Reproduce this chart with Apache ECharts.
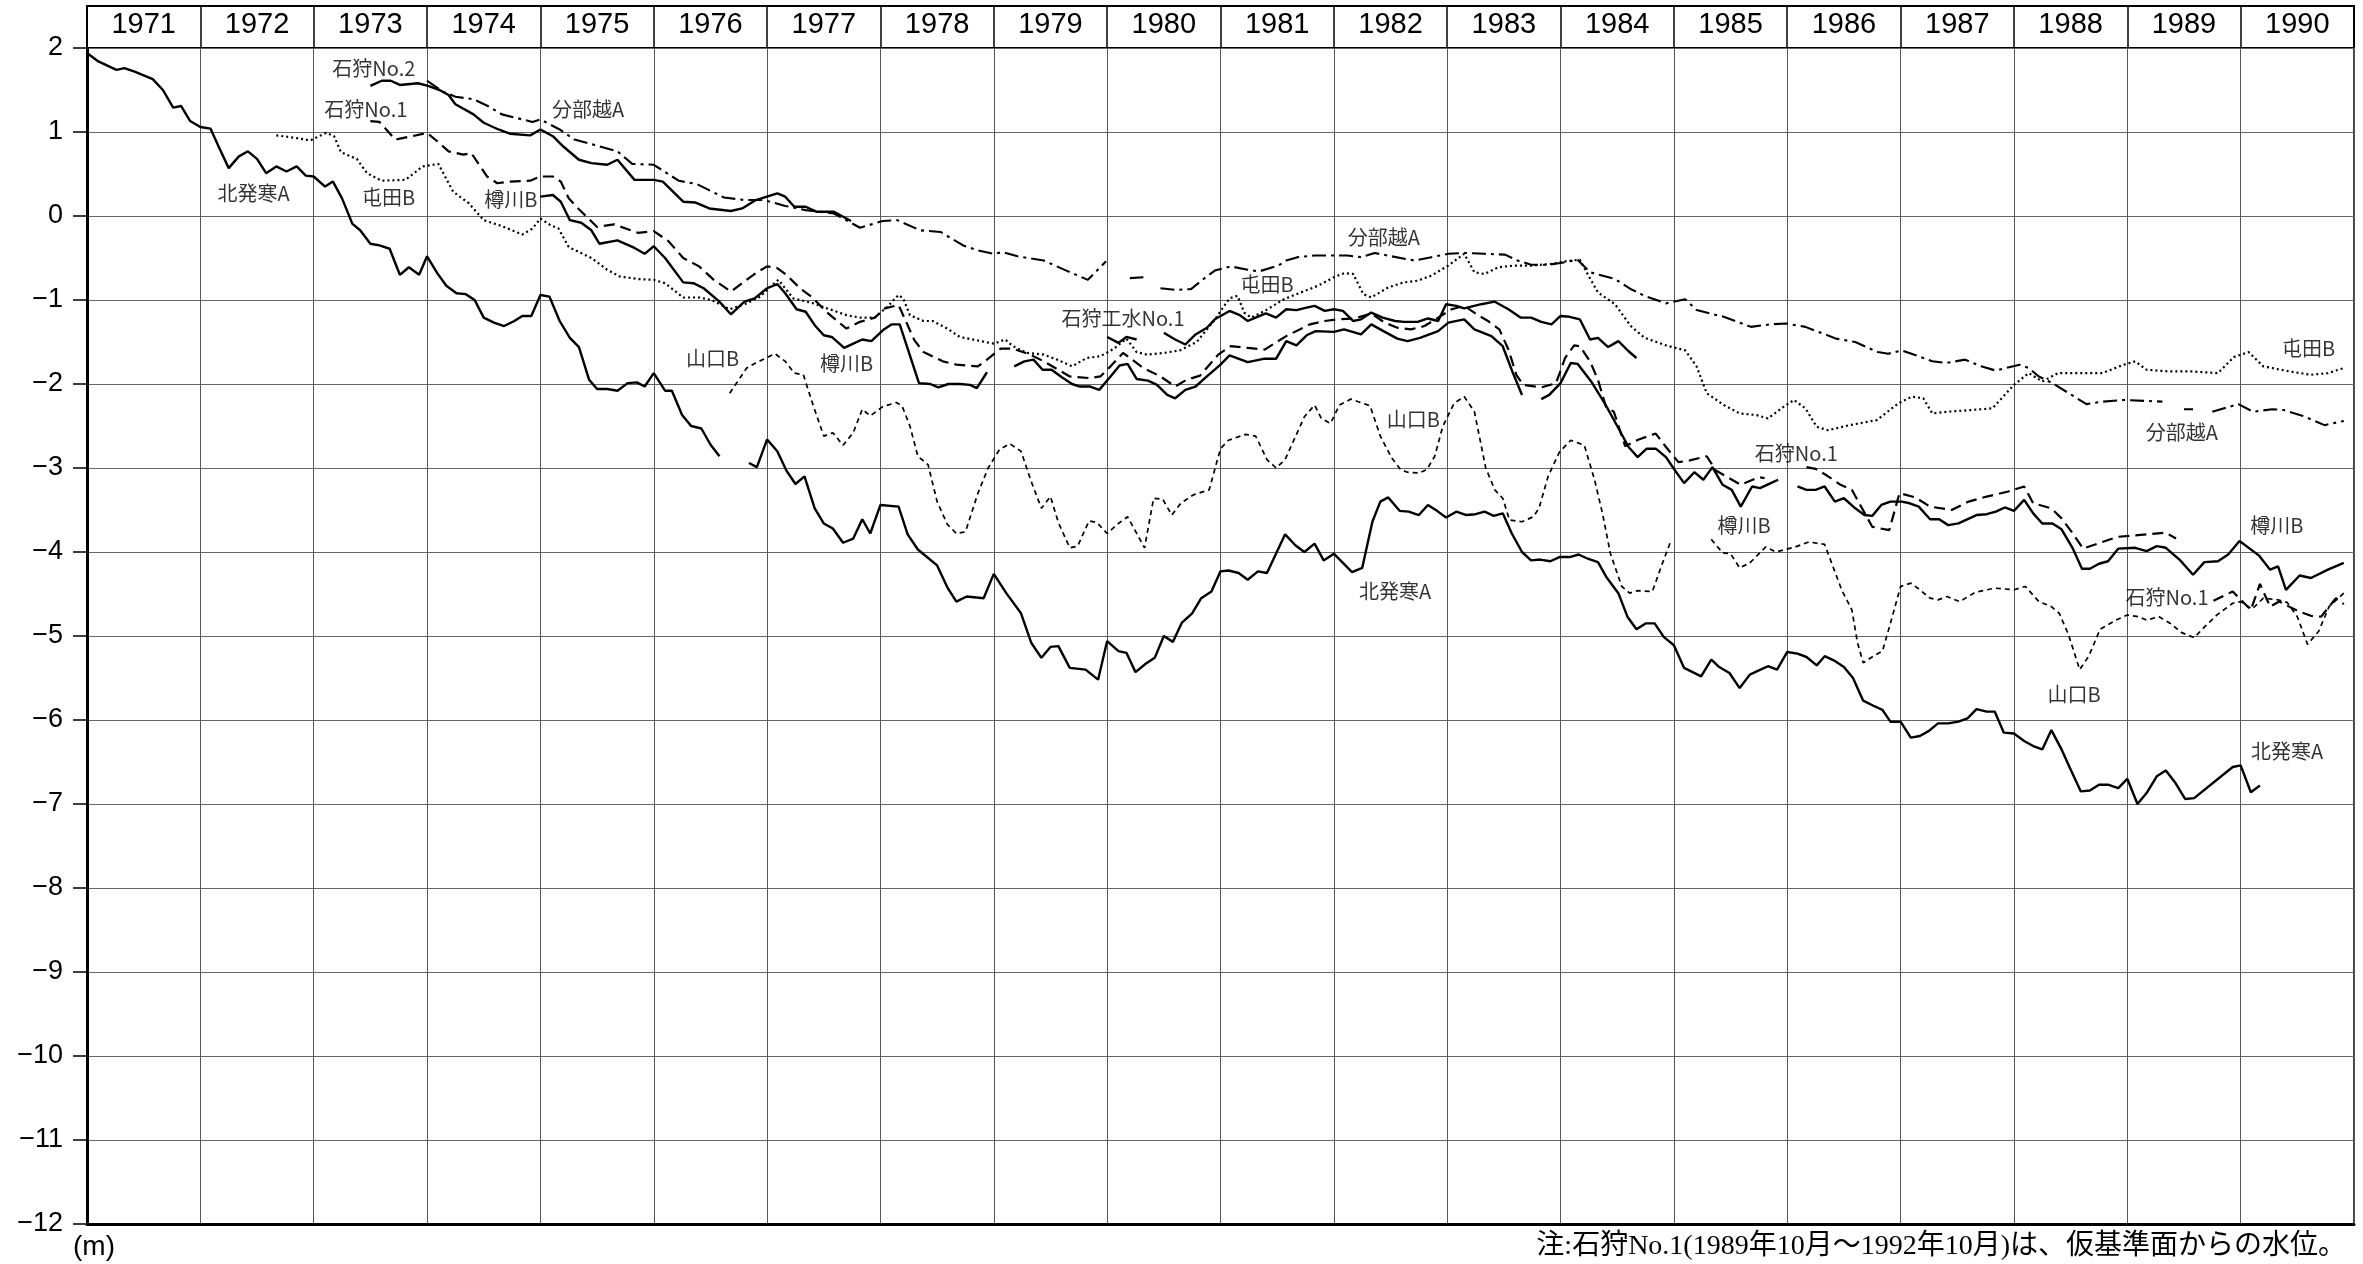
<!DOCTYPE html>
<html><head><meta charset="utf-8">
<script src="https://cdn.jsdelivr.net/npm/echarts/dist/echarts.min.js"></script>
<style>html,body{margin:0;padding:0;background:#fff}#c{width:2363px;height:1264px}</style>
</head><body><div id="c"></div><script>
// ---------- data ----------
const yearLabels = ['1971','1972','1973','1974','1975','1976','1977','1978','1979','1980','1981','1982','1983','1984','1985','1986','1987','1988','1989','1990'];
const yTickValues = [2,1,0,-1,-2,-3,-4,-5,-6,-7,-8,-9,-10,-11,-12];

const kitahassamuA = [[1971.0,1.94],[1971.1,1.84],[1971.26,1.74],[1971.33,1.76],[1971.42,1.72],[1971.58,1.63],[1971.67,1.50],[1971.76,1.29],[1971.83,1.31],[1971.91,1.13],[1972.0,1.06],[1972.09,1.04],[1972.16,0.83],[1972.25,0.57],[1972.34,0.71],[1972.42,0.77],[1972.5,0.68],[1972.58,0.51],[1972.67,0.59],[1972.76,0.53],[1972.85,0.59],[1972.93,0.48],[1973.0,0.47],[1973.1,0.35],[1973.17,0.41],[1973.25,0.21],[1973.34,-0.09],[1973.41,-0.17],[1973.5,-0.33],[1973.58,-0.35],[1973.67,-0.39],[1973.76,-0.70],[1973.84,-0.61],[1973.93,-0.70],[1974.0,-0.48],[1974.09,-0.68],[1974.17,-0.83],[1974.26,-0.92],[1974.34,-0.93],[1974.42,-1.0],[1974.5,-1.21],[1974.59,-1.27],[1974.68,-1.31],[1974.77,-1.25],[1974.84,-1.19],[1974.92,-1.19],[1975.0,-0.94],[1975.08,-0.96],[1975.17,-1.25],[1975.26,-1.45],[1975.34,-1.56],[1975.43,-1.95],[1975.5,-2.06],[1975.59,-2.06],[1975.68,-2.08],[1975.77,-1.99],[1975.85,-1.98],[1975.92,-2.03],[1976.0,-1.87],[1976.1,-2.08],[1976.16,-2.08],[1976.25,-2.37],[1976.33,-2.50],[1976.42,-2.53],[1976.5,-2.72],[1976.58,-2.86],null,[1976.84,-2.94],[1976.91,-2.99],[1977.0,-2.66],[1977.09,-2.80],[1977.17,-3.03],[1977.25,-3.19],[1977.33,-3.10],[1977.42,-3.48],[1977.5,-3.66],[1977.58,-3.72],[1977.67,-3.89],[1977.76,-3.84],[1977.84,-3.61],[1977.91,-3.78],[1978.0,-3.44],[1978.16,-3.46],[1978.24,-3.79],[1978.33,-3.97],[1978.41,-4.06],[1978.5,-4.16],[1978.59,-4.42],[1978.67,-4.59],[1978.76,-4.53],[1978.91,-4.55],[1979.0,-4.26],[1979.11,-4.49],[1979.24,-4.73],[1979.33,-5.08],[1979.42,-5.26],[1979.5,-5.13],[1979.57,-5.12],[1979.67,-5.38],[1979.81,-5.40],[1979.92,-5.52],[1980.0,-5.06],[1980.1,-5.18],[1980.17,-5.20],[1980.25,-5.43],[1980.34,-5.33],[1980.42,-5.26],[1980.5,-5.0],[1980.58,-5.07],[1980.66,-4.84],[1980.75,-4.73],[1980.83,-4.55],[1980.92,-4.47],[1981.0,-4.23],[1981.07,-4.22],[1981.16,-4.25],[1981.24,-4.33],[1981.33,-4.23],[1981.41,-4.25],[1981.57,-3.79],[1981.66,-3.92],[1981.74,-4.0],[1981.83,-3.90],[1981.91,-4.10],[1982.0,-4.02],[1982.08,-4.13],[1982.16,-4.24],[1982.25,-4.19],[1982.34,-3.64],[1982.41,-3.40],[1982.48,-3.35],[1982.58,-3.51],[1982.66,-3.52],[1982.75,-3.56],[1982.83,-3.44],[1982.91,-3.51],[1982.99,-3.59],[1983.08,-3.52],[1983.17,-3.56],[1983.25,-3.55],[1983.33,-3.52],[1983.41,-3.57],[1983.49,-3.54],[1983.57,-3.78],[1983.66,-4.0],[1983.74,-4.10],[1983.82,-4.09],[1983.91,-4.11],[1983.99,-4.06],[1984.08,-4.06],[1984.16,-4.03],[1984.24,-4.08],[1984.33,-4.12],[1984.41,-4.31],[1984.51,-4.49],[1984.59,-4.77],[1984.67,-4.92],[1984.75,-4.85],[1984.83,-4.85],[1984.91,-5.01],[1985.0,-5.11],[1985.09,-5.38],[1985.24,-5.48],[1985.33,-5.28],[1985.4,-5.37],[1985.49,-5.44],[1985.58,-5.62],[1985.67,-5.46],[1985.75,-5.41],[1985.83,-5.36],[1985.91,-5.40],[1986.0,-5.19],[1986.09,-5.21],[1986.17,-5.25],[1986.26,-5.35],[1986.33,-5.24],[1986.41,-5.29],[1986.5,-5.37],[1986.58,-5.50],[1986.67,-5.77],[1986.76,-5.83],[1986.84,-5.88],[1986.91,-6.02],[1987.0,-6.02],[1987.09,-6.21],[1987.17,-6.19],[1987.25,-6.13],[1987.33,-6.04],[1987.42,-6.04],[1987.51,-6.02],[1987.59,-5.98],[1987.67,-5.87],[1987.76,-5.90],[1987.83,-5.90],[1987.91,-6.15],[1988.0,-6.16],[1988.09,-6.25],[1988.17,-6.31],[1988.25,-6.35],[1988.33,-6.12],[1988.42,-6.35],[1988.5,-6.59],[1988.59,-6.85],[1988.67,-6.84],[1988.75,-6.77],[1988.83,-6.77],[1988.92,-6.81],[1989.0,-6.70],[1989.09,-7.0],[1989.17,-6.87],[1989.26,-6.67],[1989.34,-6.6],[1989.42,-6.74],[1989.51,-6.94],[1989.59,-6.93],[1989.93,-6.56],[1990.0,-6.54],[1990.09,-6.86],[1990.17,-6.78]];

const yamaguchiB = [[1976.67,-2.11],[1976.82,-1.81],[1976.9,-1.75],[1976.99,-1.69],[1977.07,-1.64],[1977.16,-1.73],[1977.24,-1.87],[1977.32,-1.89],[1977.41,-2.27],[1977.5,-2.62],[1977.58,-2.58],[1977.67,-2.73],[1977.76,-2.58],[1977.84,-2.30],[1977.91,-2.38],[1978.02,-2.27],[1978.14,-2.22],[1978.19,-2.26],[1978.26,-2.50],[1978.33,-2.86],[1978.42,-2.96],[1978.5,-3.40],[1978.59,-3.67],[1978.67,-3.78],[1978.75,-3.76],[1978.86,-3.30],[1978.95,-3.0],[1979.05,-2.78],[1979.14,-2.71],[1979.24,-2.80],[1979.33,-3.16],[1979.42,-3.48],[1979.5,-3.34],[1979.57,-3.65],[1979.67,-3.95],[1979.74,-3.93],[1979.84,-3.63],[1979.91,-3.65],[1980.0,-3.78],[1980.09,-3.67],[1980.18,-3.58],[1980.33,-3.95],[1980.41,-3.36],[1980.49,-3.37],[1980.57,-3.56],[1980.65,-3.42],[1980.76,-3.32],[1980.9,-3.26],[1981.0,-2.77],[1981.07,-2.67],[1981.22,-2.60],[1981.31,-2.62],[1981.41,-2.90],[1981.49,-3.0],[1981.57,-2.90],[1981.74,-2.39],[1981.83,-2.25],[1981.89,-2.41],[1981.97,-2.47],[1982.05,-2.25],[1982.15,-2.18],[1982.32,-2.26],[1982.41,-2.62],[1982.51,-2.88],[1982.59,-3.02],[1982.65,-3.05],[1982.75,-3.06],[1982.82,-3.02],[1982.89,-2.86],[1982.96,-2.51],[1983.06,-2.23],[1983.15,-2.15],[1983.24,-2.33],[1983.34,-3.0],[1983.42,-3.26],[1983.49,-3.36],[1983.55,-3.62],[1983.66,-3.64],[1983.76,-3.58],[1983.81,-3.48],[1983.89,-3.10],[1983.99,-2.81],[1984.09,-2.67],[1984.21,-2.73],[1984.3,-3.14],[1984.37,-3.54],[1984.44,-4.02],[1984.54,-4.41],[1984.61,-4.49],[1984.68,-4.46],[1984.81,-4.47],[1984.9,-4.13],[1984.97,-3.88],null,[1985.33,-3.85],[1985.43,-4.01],[1985.5,-4.02],[1985.58,-4.19],[1985.67,-4.13],[1985.81,-3.94],[1985.9,-4.0],[1986.07,-3.94],[1986.19,-3.88],[1986.33,-3.91],[1986.38,-4.09],[1986.48,-4.45],[1986.57,-4.69],[1986.62,-5.08],[1986.67,-5.32],[1986.76,-5.24],[1986.84,-5.18],[1986.91,-4.85],[1987.0,-4.41],[1987.09,-4.37],[1987.17,-4.45],[1987.26,-4.55],[1987.33,-4.57],[1987.41,-4.53],[1987.52,-4.59],[1987.66,-4.48],[1987.83,-4.43],[1988.0,-4.45],[1988.1,-4.41],[1988.22,-4.59],[1988.33,-4.65],[1988.4,-4.73],[1988.48,-4.98],[1988.58,-5.40],[1988.66,-5.24],[1988.76,-4.92],[1988.9,-4.81],[1989.0,-4.75],[1989.1,-4.77],[1989.17,-4.81],[1989.28,-4.77],[1989.38,-4.85],[1989.48,-4.96],[1989.59,-5.02],[1989.69,-4.88],[1989.79,-4.75],[1989.93,-4.61],[1990.0,-4.59],[1990.1,-4.68],[1990.2,-4.55],[1990.33,-4.57],[1990.41,-4.6],[1990.5,-4.77],[1990.59,-5.10],[1990.69,-4.94],[1990.78,-4.65],[1990.91,-4.49]];

const tondenB = [[1972.67,0.96],[1972.84,0.93],[1972.97,0.90],[1973.11,0.99],[1973.18,0.95],[1973.24,0.76],[1973.38,0.68],[1973.47,0.51],[1973.6,0.42],[1973.81,0.43],[1973.96,0.59],[1974.1,0.62],[1974.23,0.29],[1974.37,0.15],[1974.5,-0.05],[1974.66,-0.12],[1974.84,-0.22],[1974.93,-0.15],[1975.0,-0.03],[1975.09,-0.11],[1975.16,-0.15],[1975.25,-0.37],[1975.45,-0.5],[1975.59,-0.64],[1975.7,-0.72],[1975.86,-0.75],[1976.0,-0.76],[1976.1,-0.8],[1976.26,-0.97],[1976.4,-0.97],[1976.51,-1.0],[1976.67,-1.11],[1976.82,-1.04],[1976.94,-0.96],[1977.02,-0.85],[1977.1,-0.76],[1977.23,-0.98],[1977.41,-1.04],[1977.53,-1.10],[1977.7,-1.18],[1977.82,-1.21],[1977.95,-1.21],[1978.06,-1.08],[1978.16,-0.94],[1978.2,-0.98],[1978.26,-1.18],[1978.38,-1.25],[1978.46,-1.25],[1978.59,-1.34],[1978.7,-1.44],[1978.85,-1.48],[1979.0,-1.52],[1979.1,-1.47],[1979.17,-1.55],[1979.29,-1.63],[1979.44,-1.65],[1979.56,-1.71],[1979.69,-1.79],[1979.82,-1.69],[1979.94,-1.67],[1980.06,-1.58],[1980.17,-1.46],[1980.26,-1.62],[1980.35,-1.65],[1980.5,-1.63],[1980.64,-1.60],[1980.79,-1.50],[1980.94,-1.25],[1981.08,-0.98],[1981.15,-0.95],[1981.21,-1.15],[1981.27,-1.21],[1981.39,-1.13],[1981.56,-0.99],[1981.71,-0.91],[1981.86,-0.83],[1982.0,-0.73],[1982.09,-0.68],[1982.17,-0.69],[1982.26,-0.93],[1982.33,-0.97],[1982.48,-0.85],[1982.62,-0.79],[1982.74,-0.77],[1982.86,-0.71],[1983.01,-0.59],[1983.15,-0.45],[1983.24,-0.67],[1983.33,-0.69],[1983.45,-0.61],[1983.59,-0.59],[1983.74,-0.59],[1983.92,-0.57],[1984.04,-0.54],[1984.17,-0.52],[1984.23,-0.67],[1984.33,-0.91],[1984.48,-1.05],[1984.62,-1.31],[1984.74,-1.45],[1984.93,-1.54],[1985.1,-1.6],[1985.2,-1.79],[1985.29,-2.11],[1985.44,-2.25],[1985.58,-2.35],[1985.73,-2.37],[1985.83,-2.41],[1985.97,-2.27],[1986.06,-2.19],[1986.16,-2.29],[1986.26,-2.51],[1986.36,-2.55],[1986.55,-2.49],[1986.79,-2.43],[1986.98,-2.23],[1987.1,-2.15],[1987.2,-2.17],[1987.28,-2.35],[1987.42,-2.33],[1987.62,-2.31],[1987.81,-2.29],[1988.0,-2.01],[1988.13,-1.87],[1988.25,-1.97],[1988.39,-1.87],[1988.59,-1.87],[1988.78,-1.87],[1988.97,-1.77],[1989.07,-1.73],[1989.17,-1.83],[1989.36,-1.85],[1989.56,-1.85],[1989.8,-1.87],[1989.94,-1.68],[1990.07,-1.62],[1990.2,-1.79],[1990.43,-1.85],[1990.62,-1.89],[1990.77,-1.87],[1990.91,-1.81]];

const wakeoiA = [[1974.0,1.61],[1974.14,1.48],[1974.25,1.42],[1974.41,1.39],[1974.55,1.30],[1974.66,1.21],[1974.93,1.12],[1975.0,1.15],[1975.17,1.03],[1975.3,0.91],[1975.52,0.83],[1975.68,0.77],[1975.81,0.62],[1976.0,0.61],[1976.22,0.42],[1976.38,0.38],[1976.62,0.22],[1976.8,0.19],[1976.97,0.19],[1977.16,0.12],[1977.34,0.07],[1977.59,0.03],[1977.82,-0.14],[1978.02,-0.06],[1978.15,-0.05],[1978.35,-0.17],[1978.53,-0.19],[1978.73,-0.35],[1978.86,-0.41],[1979.0,-0.45],[1979.08,-0.43],[1979.21,-0.48],[1979.44,-0.53],[1979.64,-0.65],[1979.83,-0.76],[1979.99,-0.54],null,[1980.2,-0.74],[1980.32,-0.73],null,[1980.47,-0.86],[1980.6,-0.88],[1980.74,-0.87],[1980.86,-0.74],[1980.95,-0.65],[1981.09,-0.60],[1981.24,-0.64],[1981.34,-0.66],[1981.51,-0.59],[1981.58,-0.53],[1981.68,-0.49],[1981.83,-0.47],[1982.0,-0.47],[1982.12,-0.47],[1982.24,-0.49],[1982.36,-0.44],[1982.51,-0.48],[1982.71,-0.53],[1982.86,-0.49],[1983.01,-0.45],[1983.15,-0.44],[1983.33,-0.45],[1983.51,-0.46],[1983.62,-0.53],[1983.74,-0.58],[1983.89,-0.58],[1984.0,-0.56],[1984.15,-0.52],[1984.26,-0.67],[1984.48,-0.75],[1984.62,-0.87],[1984.74,-0.95],[1984.93,-1.04],[1985.1,-0.99],[1985.2,-1.12],[1985.44,-1.2],[1985.68,-1.32],[1985.85,-1.29],[1985.99,-1.28],[1986.16,-1.32],[1986.43,-1.46],[1986.6,-1.5],[1986.8,-1.62],[1986.89,-1.64],[1987.01,-1.6],[1987.18,-1.68],[1987.28,-1.73],[1987.4,-1.75],[1987.57,-1.71],[1987.71,-1.79],[1987.84,-1.84],[1988.05,-1.77],[1988.13,-1.81],[1988.22,-1.91],[1988.34,-1.99],[1988.64,-2.24],[1988.78,-2.21],[1988.97,-2.19],[1989.31,-2.21],null,[1989.5,-2.3],[1989.58,-2.3],null,[1989.75,-2.33],[1989.98,-2.24],[1990.11,-2.33],[1990.28,-2.30],[1990.38,-2.31],[1990.55,-2.38],[1990.74,-2.49],[1990.91,-2.44]];

const ishikariNo2 = [[1973.5,1.55],[1973.6,1.61],[1973.68,1.61],[1973.76,1.56],[1973.92,1.58],[1974.01,1.55],[1974.11,1.50],[1974.19,1.44],[1974.25,1.33],[1974.41,1.21],[1974.5,1.11],[1974.63,1.03],[1974.73,0.98],[1974.91,0.96],[1975.0,1.03],[1975.11,0.95],[1975.2,0.83],[1975.34,0.67],[1975.45,0.63],[1975.59,0.61],[1975.68,0.67],[1975.83,0.43],[1976.0,0.43],[1976.08,0.41],[1976.26,0.17],[1976.37,0.16],[1976.49,0.09],[1976.68,0.06],[1976.78,0.09],[1976.9,0.19],[1977.09,0.27],[1977.16,0.23],[1977.24,0.11],[1977.34,0.11],[1977.44,0.05],[1977.59,0.05],[1977.74,-0.06]];

const ishikariNo1 = [[1973.5,1.13],[1973.58,1.12],[1973.72,0.91],[1973.87,0.95],[1974.0,0.99],[1974.09,0.89],[1974.19,0.77],[1974.32,0.73],[1974.39,0.75],[1974.53,0.47],[1974.62,0.39],[1974.73,0.41],[1974.91,0.42],[1975.0,0.47],[1975.11,0.47],[1975.18,0.41],[1975.25,0.21],[1975.34,0.08],[1975.5,-0.13],[1975.65,-0.10],[1975.86,-0.20],[1976.0,-0.18],[1976.13,-0.30],[1976.26,-0.5],[1976.4,-0.6],[1976.53,-0.76],[1976.68,-0.90],[1976.76,-0.82],[1976.9,-0.68],[1977.0,-0.6],[1977.09,-0.62],[1977.17,-0.70],[1977.29,-0.86],[1977.39,-0.96],[1977.53,-1.15],[1977.7,-1.34],[1977.82,-1.26],[1977.95,-1.21],[1978.04,-1.10],[1978.16,-1.06],[1978.3,-1.48],[1978.38,-1.62],[1978.55,-1.73],[1978.67,-1.77],[1978.86,-1.79],[1978.94,-1.71],[1979.06,-1.58],[1979.17,-1.58],[1979.32,-1.65],[1979.44,-1.73],[1979.67,-1.91],[1979.85,-1.93],[1979.94,-1.91],[1980.03,-1.79],[1980.14,-1.63],[1980.22,-1.71],[1980.32,-1.81],[1980.47,-1.91],[1980.6,-2.03],[1980.7,-1.95],[1980.82,-1.90],[1980.98,-1.65],[1981.09,-1.55],[1981.24,-1.57],[1981.39,-1.59],[1981.58,-1.43],[1981.79,-1.29],[1981.92,-1.25],[1982.04,-1.23],[1982.18,-1.22],[1982.33,-1.16],[1982.45,-1.27],[1982.56,-1.33],[1982.68,-1.35],[1982.8,-1.31],[1982.92,-1.21],[1983.04,-1.11],[1983.15,-1.07],[1983.26,-1.17],[1983.36,-1.25],[1983.46,-1.35],[1983.54,-1.59],[1983.61,-1.89],[1983.67,-2.01],[1983.83,-2.04],[1983.96,-1.99],[1984.04,-1.69],[1984.12,-1.54],[1984.17,-1.55],[1984.26,-1.73],[1984.33,-1.95],[1984.4,-2.27],[1984.47,-2.33],[1984.57,-2.74],[1984.69,-2.66],[1984.84,-2.59],[1984.93,-2.75],[1985.04,-2.93],[1985.14,-2.91],[1985.29,-2.86],[1985.37,-3.03],[1985.59,-3.20],[1985.75,-3.11],[1985.8,-3.12],null,[1986.17,-2.99],[1986.25,-3.01],[1986.35,-3.09],[1986.47,-3.2],[1986.57,-3.26],[1986.75,-3.70],[1986.9,-3.74],[1986.99,-3.30],[1987.13,-3.35],[1987.26,-3.46],[1987.45,-3.50],[1987.6,-3.40],[1987.76,-3.34],[1987.95,-3.28],[1988.09,-3.22],[1988.17,-3.42],[1988.33,-3.48],[1988.42,-3.60],[1988.52,-3.78],[1988.61,-3.96],[1988.74,-3.90],[1988.91,-3.82],[1989.17,-3.79],[1989.34,-3.77],[1989.43,-3.84],null,[1989.76,-4.58],[1989.93,-4.47],[1990.09,-4.69],[1990.17,-4.38],[1990.26,-4.65],[1990.34,-4.59],[1990.5,-4.70],[1990.62,-4.76],[1990.71,-4.77],[1990.84,-4.55],[1990.91,-4.62]];

const tarukawaB = [[1975.0,0.23],[1975.11,0.25],[1975.18,0.17],[1975.26,-0.05],[1975.36,-0.08],[1975.45,-0.17],[1975.52,-0.33],[1975.68,-0.29],[1975.83,-0.38],[1975.92,-0.45],[1976.0,-0.36],[1976.1,-0.50],[1976.26,-0.79],[1976.35,-0.80],[1976.44,-0.86],[1976.58,-1.02],[1976.68,-1.17],[1976.8,-1.02],[1976.89,-0.98],[1977.0,-0.86],[1977.09,-0.81],[1977.16,-0.92],[1977.26,-1.11],[1977.34,-1.14],[1977.42,-1.30],[1977.5,-1.42],[1977.57,-1.44],[1977.68,-1.57],[1977.76,-1.52],[1977.84,-1.47],[1977.92,-1.49],[1978.03,-1.35],[1978.1,-1.29],[1978.17,-1.29],[1978.34,-1.99],[1978.44,-2.0],[1978.51,-2.04],[1978.6,-2.0],[1978.7,-2.0],[1978.79,-2.01],[1978.85,-2.05],[1978.94,-1.86],null,[1979.18,-1.79],[1979.27,-1.73],[1979.35,-1.71],[1979.43,-1.83],[1979.51,-1.83],[1979.6,-1.92],[1979.69,-2.0],[1979.76,-2.03],[1979.85,-2.03],[1979.93,-2.07],[1980.03,-1.91],[1980.11,-1.78],[1980.18,-1.76],[1980.26,-1.94],[1980.36,-1.96],[1980.44,-2.01],[1980.53,-2.13],[1980.6,-2.17],[1980.69,-2.07],[1980.78,-2.03],[1980.88,-1.91],[1981.0,-1.77],[1981.08,-1.66],[1981.24,-1.74],[1981.38,-1.70],[1981.49,-1.70],[1981.58,-1.49],[1981.67,-1.54],[1981.76,-1.42],[1981.84,-1.37],[1982.0,-1.38],[1982.09,-1.35],[1982.24,-1.41],[1982.33,-1.29],[1982.45,-1.38],[1982.56,-1.46],[1982.65,-1.49],[1982.76,-1.45],[1982.92,-1.37],[1983.01,-1.27],[1983.15,-1.23],[1983.24,-1.35],[1983.39,-1.43],[1983.49,-1.55],[1983.58,-1.87],[1983.66,-2.13],null,[1983.83,-2.18],[1983.9,-2.13],[1984.0,-1.99],[1984.09,-1.75],[1984.15,-1.76],[1984.27,-1.97],[1984.39,-2.23],[1984.5,-2.5],[1984.6,-2.75],[1984.68,-2.87],[1984.76,-2.77],[1984.84,-2.77],[1984.93,-2.87],[1985.01,-3.03],[1985.09,-3.18],[1985.18,-3.05],[1985.26,-3.14],[1985.34,-2.99],[1985.43,-3.2],[1985.51,-3.26],[1985.59,-3.46],[1985.69,-3.22],[1985.76,-3.24],[1985.84,-3.19],[1985.92,-3.14],null,[1986.09,-3.22],[1986.17,-3.26],[1986.25,-3.26],[1986.33,-3.22],[1986.42,-3.40],[1986.5,-3.36],[1986.6,-3.48],[1986.68,-3.56],[1986.75,-3.57],[1986.83,-3.44],[1986.91,-3.40],[1987.01,-3.40],[1987.08,-3.42],[1987.16,-3.46],[1987.26,-3.61],[1987.34,-3.61],[1987.42,-3.68],[1987.51,-3.66],[1987.67,-3.56],[1987.76,-3.55],[1987.84,-3.52],[1987.92,-3.47],[1988.0,-3.51],[1988.09,-3.38],[1988.17,-3.54],[1988.25,-3.66],[1988.34,-3.66],[1988.42,-3.73],[1988.52,-3.96],[1988.6,-4.2],[1988.67,-4.20],[1988.75,-4.14],[1988.83,-4.11],[1988.92,-3.96],[1989.07,-3.95],[1989.17,-3.99],[1989.26,-3.93],[1989.34,-3.95],[1989.46,-4.09],[1989.58,-4.27],[1989.68,-4.12],[1989.8,-4.11],[1989.89,-4.03],[1989.99,-3.87],[1990.16,-4.04],[1990.26,-4.21],[1990.33,-4.17],[1990.4,-4.45],[1990.52,-4.28],[1990.62,-4.31],[1990.77,-4.21],[1990.91,-4.13]];

const ishikariKousuiNo1 = [[1980.0,-1.44],[1980.1,-1.51],[1980.17,-1.44],[1980.26,-1.47],null,[1980.5,-1.39],[1980.6,-1.47],[1980.69,-1.53],[1980.78,-1.41],[1980.88,-1.33],[1980.95,-1.23],[1981.08,-1.13],[1981.17,-1.18],[1981.24,-1.25],[1981.31,-1.21],[1981.4,-1.16],[1981.49,-1.21],[1981.58,-1.11],[1981.67,-1.12],[1981.76,-1.09],[1981.83,-1.07],[1981.92,-1.13],[1982.0,-1.11],[1982.08,-1.13],[1982.17,-1.25],[1982.24,-1.23],[1982.33,-1.15],[1982.43,-1.21],[1982.54,-1.25],[1982.62,-1.26],[1982.74,-1.26],[1982.83,-1.22],[1982.92,-1.25],[1982.99,-1.05],[1983.08,-1.07],[1983.15,-1.10],[1983.3,-1.05],[1983.42,-1.02],[1983.54,-1.11],[1983.65,-1.21],[1983.74,-1.21],[1983.83,-1.26],[1983.92,-1.29],[1984.0,-1.19],[1984.08,-1.20],[1984.17,-1.23],[1984.26,-1.47],[1984.33,-1.45],[1984.42,-1.56],[1984.51,-1.49],[1984.6,-1.61],[1984.67,-1.69]];

// series name labels (anchor in data units: year, metres)
const nameLabels = [
  ['石狩No.2',1973.53,1.76],['石狩No.1',1973.46,1.27],['分部越A',1975.42,1.27],
  ['北発寒A',1972.47,0.27],['屯田B',1973.66,0.22],['樽川B',1974.74,0.20],
  ['山口B',1976.52,-1.70],['樽川B',1977.7,-1.76],['石狩工水No.1',1980.14,-1.22],
  ['分部越A',1982.44,-0.25],['屯田B',1981.41,-0.82],['山口B',1982.7,-2.42],
  ['北発寒A',1982.54,-4.47],['石狩No.1',1986.08,-2.83],['樽川B',1985.62,-3.68],
  ['屯田B',1990.6,-1.58],['分部越A',1989.48,-2.58],['樽川B',1990.32,-3.68],
  ['石狩No.1',1989.35,-4.54],['山口B',1988.53,-5.70],['北発寒A',1990.41,-6.37]
];

// ---------- chart ----------
const NARROW = "'Liberation Sans Narrow','Arial Narrow','Liberation Sans',sans-serif";
const SANS = "'Liberation Sans',Arial,sans-serif";
const CJK = "'Noto Sans CJK JP','Noto Sans',sans-serif";

function prep(arr){
  const out = [];
  for (let i=0;i<arr.length;i++){
    const p = arr[i];
    if (p === null){ const a = arr[i-1], b = arr[i+1]; out.push([(a[0]+b[0])/2, '-']); }
    else out.push(p);
  }
  return out;
}
const SOLID = {type:'solid', width:2.4};
const seriesDefs = [
  ['北発寒A', kitahassamuA, SOLID],
  ['石狩No.2', ishikariNo2, SOLID],
  ['樽川B', tarukawaB, SOLID],
  ['石狩工水No.1', ishikariKousuiNo1, SOLID],
  ['石狩No.1', ishikariNo1, {type:[11,6], width:2.2}],
  ['山口B', yamaguchiB, {type:[5,4], width:1.7}],
  ['屯田B', tondenB, {type:[2,3], width:2.2}],
  ['分部越A', wakeoiA, {type:[14,5,3,5], width:2.1}]
];

const series = seriesDefs.map(d => ({
  name: d[0], type:'line', xAxisIndex:0, yAxisIndex:0,
  data: prep(d[1]), showSymbol:false, symbol:'none', connectNulls:false,
  lineStyle: Object.assign({color:'#000'}, d[2]), silent:true, animation:false
}));
series.push({
  type:'scatter', xAxisIndex:0, yAxisIndex:0, symbol:'circle', symbolSize:1,
  itemStyle:{color:'rgba(0,0,0,0)'}, silent:true, animation:false, z:10,
  data: nameLabels.map(l => ({name:l[0], value:[l[1], l[2]]})),
  label:{show:true, position:'inside', formatter:'{b}', color:'#000',
         fontSize:20, fontFamily:CJK}
});

const chart = echarts.init(document.getElementById('c'), null, {renderer:'canvas'});
chart.setOption({
  backgroundColor:'#fff',
  animation:false,
  title:[
    {text:'(m)', left:68, top:1228, textStyle:{fontSize:28, fontWeight:'normal', color:'#000', fontFamily:SANS}},
    {text:'注:石狩No.1(1989年10月～1992年10月)は、仮基準面からの水位。', right:12, top:1228,
     textStyle:{fontSize:28, fontWeight:'normal', color:'#000', fontFamily:"'Liberation Serif','Noto Sans CJK JP',serif"}}
  ],
  grid:[
    {left:87, right:9, top:48, bottom:40, show:true, borderColor:'#000', borderWidth:1.5, backgroundColor:'transparent'},
    {left:87, right:9, top:6, height:42, show:true, borderColor:'#000', borderWidth:2, backgroundColor:'transparent'}
  ],
  xAxis:[
    {type:'value', gridIndex:0, min:1971, max:1991, interval:1,
     axisLabel:{show:false}, axisTick:{show:false},
     axisLine:{show:true, onZero:false, lineStyle:{color:'#000', width:3}},
     splitLine:{show:true, lineStyle:{color:'#555', width:1}}},
    {type:'category', gridIndex:1, data:yearLabels, boundaryGap:true, position:'bottom',
     axisLine:{show:false}, axisTick:{show:false},
     splitLine:{show:true, interval:0, lineStyle:{color:'#000', width:1.5}},
     axisLabel:{show:true, inside:true, interval:0, margin:9, fontSize:29, color:'#000', fontFamily:NARROW}}
  ],
  yAxis:[
    {type:'value', gridIndex:0, min:-12, max:2, interval:1,
     axisLine:{show:true, onZero:false, lineStyle:{color:'#000', width:3}},
     axisTick:{show:true, length:14, inside:false, lineStyle:{color:'#000', width:1.5}},
     axisLabel:{show:true, margin:24, fontSize:27, color:'#000', fontFamily:SANS,
       formatter: v => (yTickValues.indexOf(v) >= 0 ? (v < 0 ? '\u2212' + Math.abs(v) : String(v)) : '')},
     splitLine:{show:true, lineStyle:{color:'#666', width:1.2}}},
    {type:'value', gridIndex:1, show:false, min:0, max:1}
  ],
  series: series
});
</script></body></html>
